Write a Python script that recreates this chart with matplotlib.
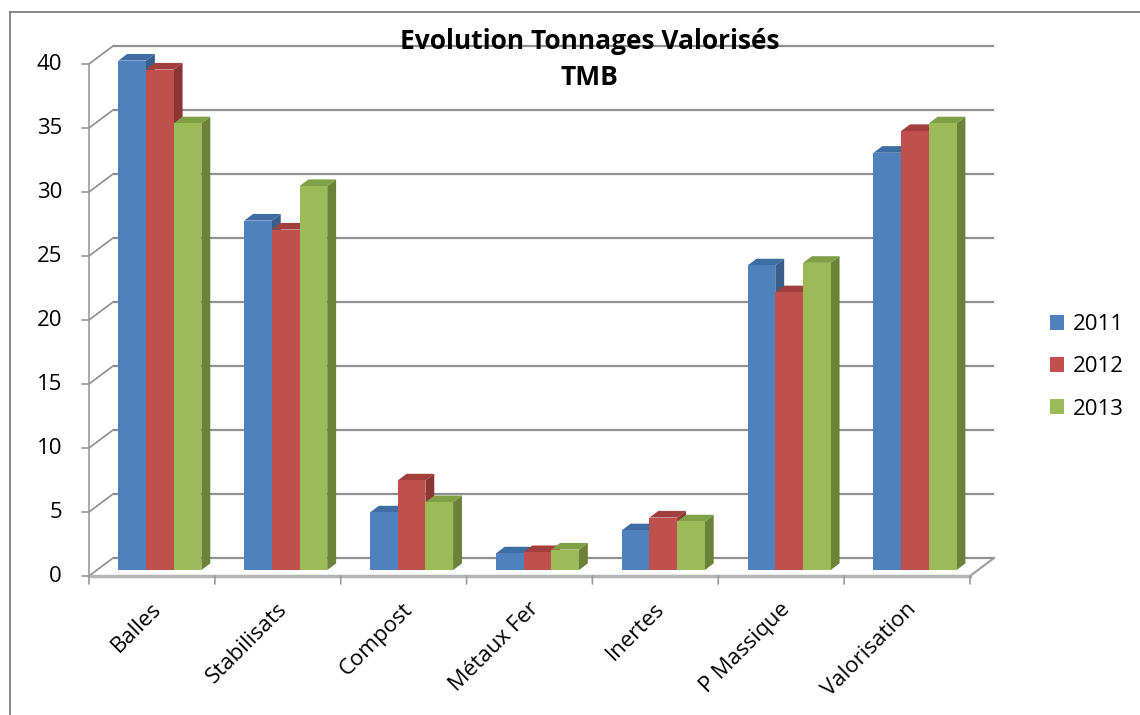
import matplotlib
matplotlib.use("Agg")
import matplotlib.pyplot as plt
import numpy as np
from matplotlib.patches import Polygon, Rectangle
from matplotlib.lines import Line2D

# ---------------- data ----------------
categories = ["Balles", "Stabilisats", "Compost", "Métaux Fer", "Inertes", "P Massique", "Valorisation"]
series_names = ["2011", "2012", "2013"]
v2011 = [39.8, 27.3, 4.5, 1.3, 3.1, 23.8, 32.6]
v2012 = [39.1, 26.6, 7.0, 1.4, 4.1, 21.7, 34.3]
v2013 = [34.9, 30.0, 5.3, 1.6, 3.8, 24.0, 34.9]
yticks = [0, 5, 10, 15, 20, 25, 30, 35, 40]
title_line1 = "Evolution Tonnages Valorisés"
title_line2 = "TMB"

series = [v2011, v2012, v2013]
front_cols = ["#4F81BD", "#C0504D", "#9BBB59"]
top_cols = ["#3F6CA3", "#A23F3C", "#80A045"]
side_cols = ["#385E8C", "#8B3634", "#6B8238"]

FONT = "Open Sans"
plt.rcParams["font.family"] = [FONT, "DejaVu Sans"]

W, H = 1140, 715
fig = plt.figure(figsize=(W / 100, H / 100), dpi=100)
fig.patch.set_facecolor("white")

# front plane of the floor / value axis
ax = fig.add_axes([89 / W, (H - 576) / H, 881 / W, 512 / H])
ncat = len(categories)
ax.set_xlim(0, ncat)
ax.set_ylim(0, 40)
ax.axis("off")

p0 = ax.transData.transform((0, 0))
p1 = ax.transData.transform((1, 1))
sx, sy = p1[0] - p0[0], p1[1] - p0[1]
WALL_DX, WALL_DY = 24.0, 18.0  # pixel depth of the chart


def depth(f):
    return WALL_DX * f / sx, WALL_DY * f / sy


grid_col = "#8E8E8E"
bx, by = depth(1.0)

# back wall gridlines + left wall diagonals
for v in yticks:
    ax.add_line(Line2D([bx, ncat + bx], [v + by, v + by], color=grid_col, lw=1.6,
                       clip_on=False, zorder=1, solid_capstyle="butt"))
    ax.add_line(Line2D([0, bx], [v, v + by], color=grid_col, lw=1.2,
                       clip_on=False, zorder=1))
# floor right edge
ax.add_line(Line2D([ncat, ncat + bx], [0, by], color="#A0A0A0", lw=1.6, clip_on=False, zorder=1))

# bars
w = 0.22
ffx, ffy = depth(0.33)
bfx, bfy = depth(0.70)
z = 3
for i in range(ncat):
    for k, vals in enumerate(series):
        h = vals[i]
        xc = i + 0.5 + (k - 1) * w
        x0, x1 = xc - w / 2 + ffx, xc + w / 2 + ffx
        side = Polygon([(x1, ffy), (x1, ffy + h), (x1 - ffx + bfx, bfy + h), (x1 - ffx + bfx, bfy)],
                       closed=True, facecolor=side_cols[k], edgecolor="none", clip_on=False, zorder=z)
        ax.add_patch(side)
        top = Polygon([(x0, ffy + h), (x1, ffy + h), (x1 - ffx + bfx, bfy + h), (x0 - ffx + bfx, bfy + h)],
                      closed=True, facecolor=top_cols[k], edgecolor="none", clip_on=False, zorder=z + 0.1)
        ax.add_patch(top)
        ax.bar([xc + ffx], [h], width=w, bottom=ffy, color=front_cols[k], edgecolor="none",
               clip_on=False, zorder=z + 0.2)
        z += 1

# front floor edge and value axis
ax.add_line(Line2D([0, ncat], [0, 0], color="#B4B4B4", lw=2.5, clip_on=False, zorder=200))
ax.add_line(Line2D([0, 0], [0, 40], color="#9A9A9A", lw=1.2, clip_on=False, zorder=200))

# y ticks and labels
tick_px = 7
for v in yticks:
    ax.annotate("", xy=(0, v), xytext=(-tick_px, 0), textcoords="offset pixels",
                arrowprops=dict(arrowstyle="-", color="#9A9A9A", lw=1.2, shrinkA=0, shrinkB=0),
                annotation_clip=False, zorder=200)
    ax.annotate(str(v), xy=(0, v), xytext=(-27, 0), textcoords="offset pixels",
                ha="right", va="center", fontsize=16, color="black", annotation_clip=False)

# category ticks
for i in range(ncat + 1):
    ax.annotate("", xy=(i, 0), xytext=(0, -8), textcoords="offset pixels",
                arrowprops=dict(arrowstyle="-", color="#9A9A9A", lw=1.2, shrinkA=0, shrinkB=0),
                annotation_clip=False, zorder=200)

# category labels
for i, c in enumerate(categories):
    ax.annotate(c, xy=(i + 0.5, 0), xytext=(6, -30), textcoords="offset pixels",
                ha="right", va="center", rotation=45, rotation_mode="anchor",
                fontsize=16, color="black", annotation_clip=False)

# legend
handles = [Rectangle((0, 0), 1, 1, facecolor=c, edgecolor="none") for c in front_cols]
fig.legend(handles, series_names, loc="center left", bbox_to_anchor=(1050 / W, 1 - 367 / H),
           frameon=False, fontsize=16, handlelength=0.65, handleheight=0.65,
           handletextpad=0.4, labelspacing=0.95, borderpad=0, borderaxespad=0)

# title
fig.text(589.5 / W, 1 - 49 / H, title_line1, ha="center", va="baseline",
         fontsize=19, fontweight="bold", color="black")
fig.text(589.5 / W, 1 - 85 / H, title_line2, ha="center", va="baseline",
         fontsize=19, fontweight="bold", color="black")

# outer chart border (left and top visible)
fig.add_artist(Line2D([10 / W, 10 / W], [0, 1 - 12 / H], color="#7F7F7F", lw=1.3))
fig.add_artist(Line2D([10 / W, 1], [1 - 12 / H, 1 - 12 / H], color="#7F7F7F", lw=1.3))

fig.savefig("out.png", dpi=100)
